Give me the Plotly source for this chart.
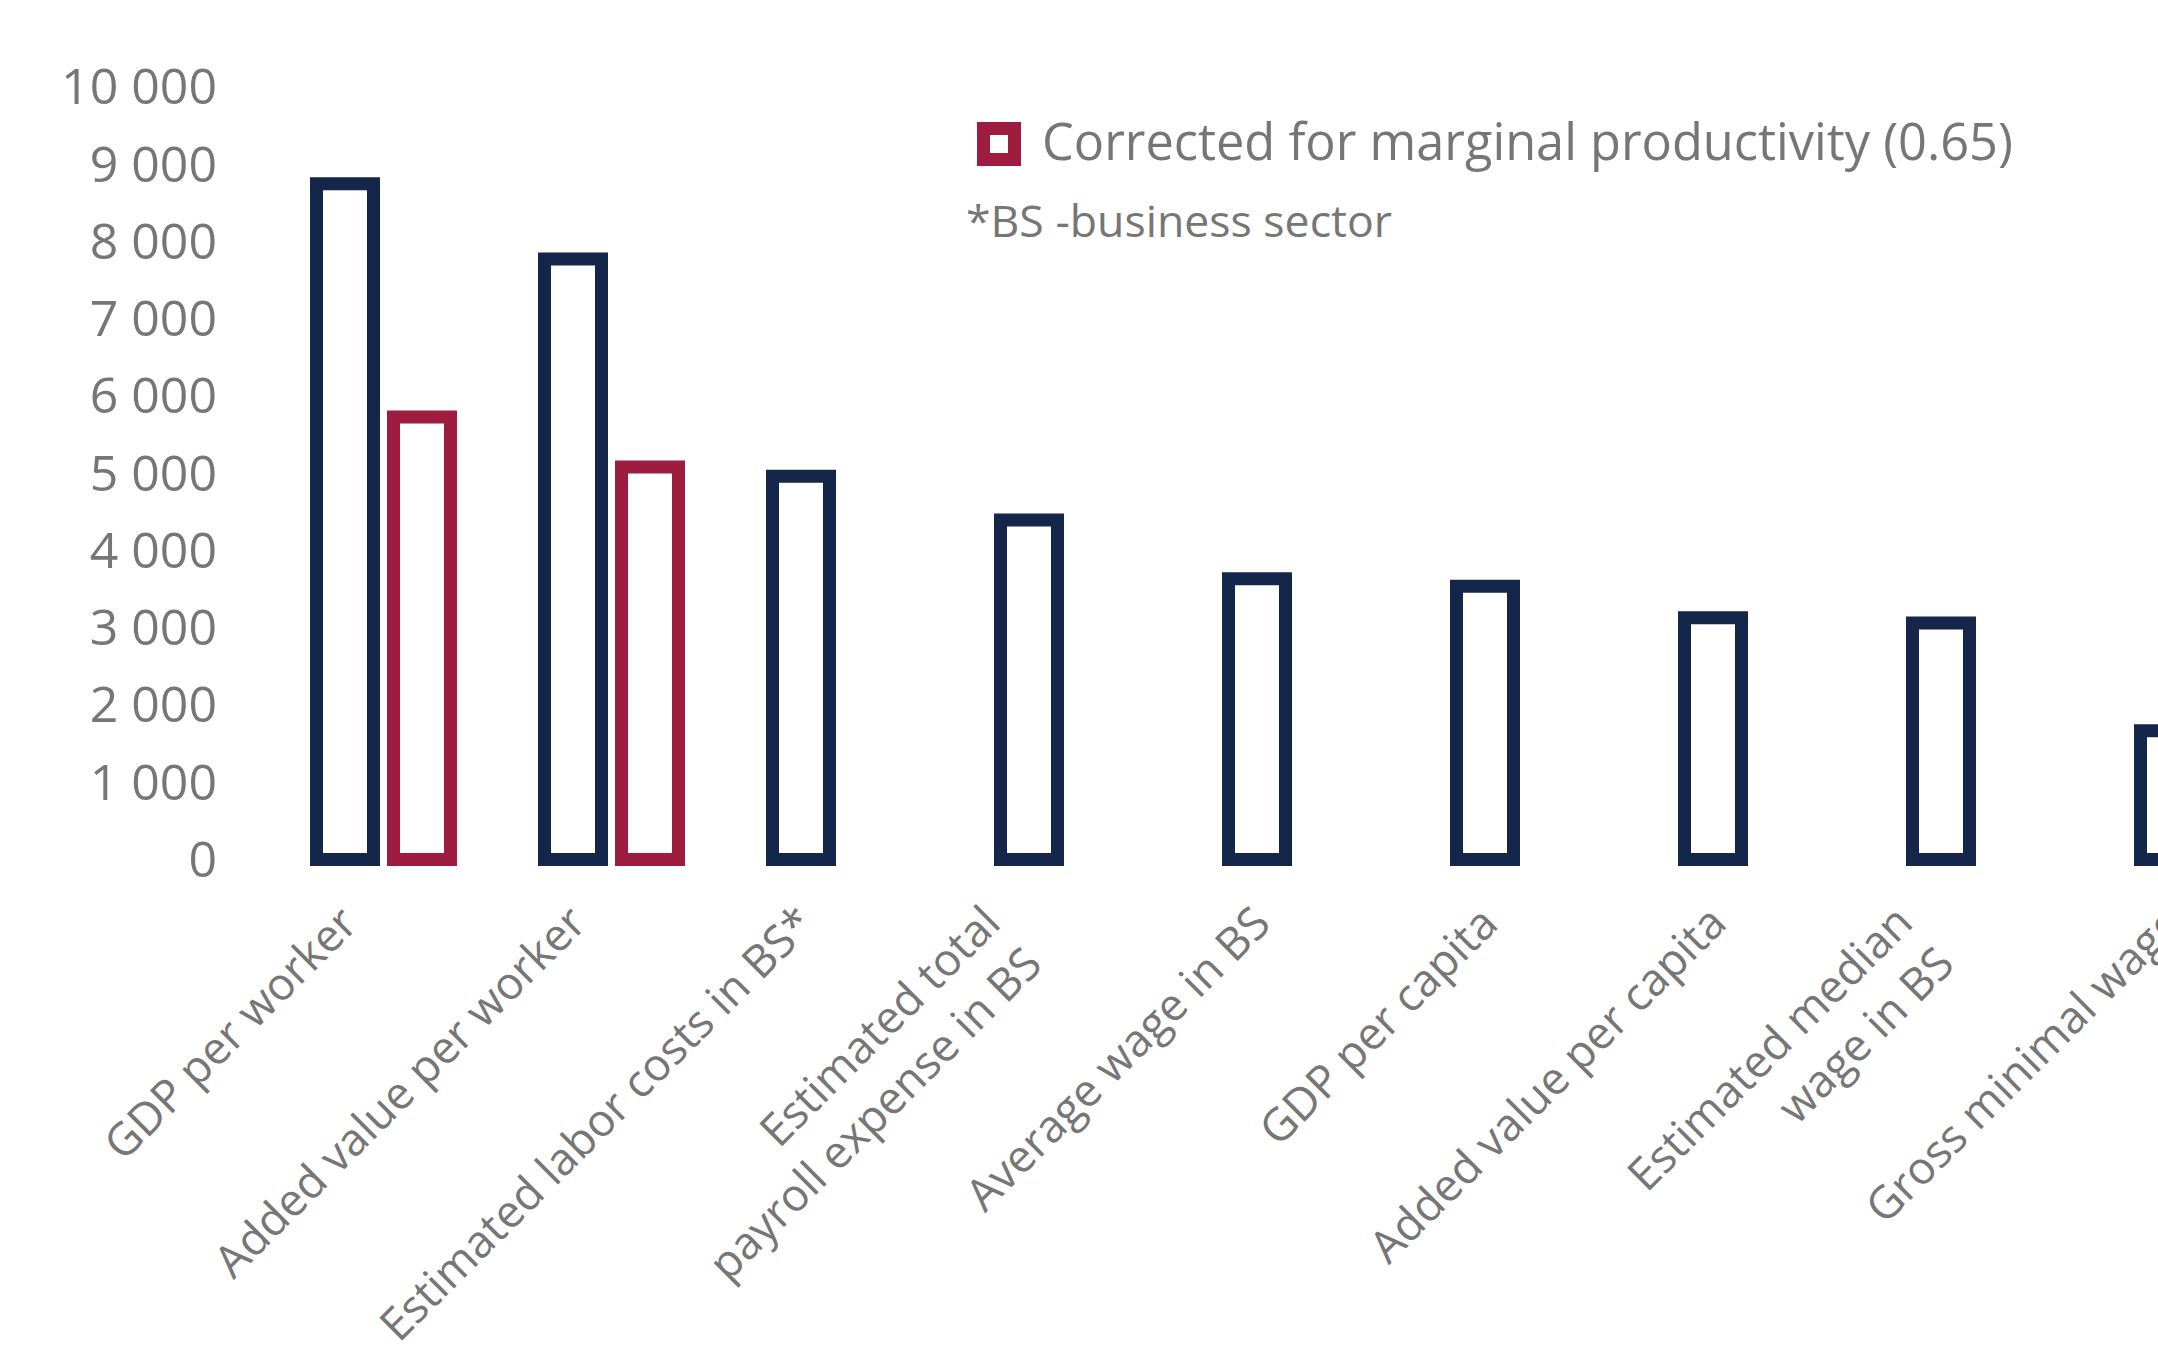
import plotly.graph_objects as go

# Monthly amounts by indicator
categories = [
    "GDP per worker",
    "Added value per worker",
    "Estimated labor costs in BS*",
    "Estimated total<br>payroll expense in BS",
    "Average wage in BS",
    "GDP per capita",
    "Added value per capita",
    "Estimated median<br>wage in BS",
    "Gross minimal wage",
]
base_values = [8745, 7770, 4960, 4395, 3635, 3535, 3130, 3060, 1665]
corrected_values = [5725, 5080, None, None, None, None, None, None, None]
corrected_name = "Corrected for marginal productivity (0.65)"
footnote = "*BS -business sector"

y_tickvals = [0, 1000, 2000, 3000, 4000, 5000, 6000, 7000, 8000, 9000, 10000]
y_ticktext = ["0", "1 000", "2 000", "3 000", "4 000", "5 000",
              "6 000", "7 000", "8 000", "9 000", "10 000"]

NAVY = "#14274A"
CRIMSON = "#9D1C40"
GREY = "#767676"
FONT = "Open Sans"

# page geometry (px)
FIG_W, FIG_H = 2340, 1349
M_L, M_R, M_T, M_B = 222, 0, 79, 474
PLOT_W = FIG_W - M_L - M_R
PLOT_H = FIG_H - M_T - M_B
CAT_STEP = 228          # px between category centres
FIRST_CAT = 383.5       # px position of the first category centre


def px_x(p):
    return (p - M_L) / PLOT_W


def px_y(p):
    return (FIG_H - M_B - p) / PLOT_H


fig = go.Figure()
fig.add_trace(go.Bar(
    x=categories, y=base_values, name="Value",
    marker=dict(color="white", line=dict(color=NAVY, width=13)),
    showlegend=False,
))
fig.add_trace(go.Bar(
    x=categories, y=corrected_values, name=corrected_name,
    marker=dict(color="white", line=dict(color=CRIMSON, width=13)),
    showlegend=False,
))

# category labels, slanted, right-aligned under each group
for cat in categories:
    fig.add_annotation(
        x=cat, xref="x", y=0, yref="paper",
        xanchor="right", yanchor="top", xshift=-11, yshift=-14,
        textangle=-45, align="right", showarrow=False,
        text=cat, font=dict(family=FONT, size=45, color=GREY),
    )

# legend key and footnote
fig.add_shape(type="rect", xref="paper", yref="paper",
              x0=px_x(983.5), x1=px_x(1014.5), y0=px_y(159.5), y1=px_y(128.5),
              line=dict(color=CRIMSON, width=13), fillcolor="white")
fig.add_annotation(xref="paper", yref="paper", x=px_x(1040), y=px_y(141),
                   xanchor="left", yanchor="middle", showarrow=False,
                   text=corrected_name, font=dict(family=FONT, size=50.5, color=GREY))
fig.add_annotation(xref="paper", yref="paper", x=px_x(964), y=px_y(219),
                   xanchor="left", yanchor="middle", showarrow=False,
                   text=footnote, font=dict(family=FONT, size=44.6, color=GREY))

fig.update_layout(
    width=FIG_W, height=FIG_H,
    margin=dict(l=M_L, r=M_R, t=M_T, b=M_B, pad=0),
    paper_bgcolor="white", plot_bgcolor="white",
    barmode="group", bargap=0.3246, bargroupgap=0.26,
    font=dict(family=FONT, color=GREY),
    showlegend=False,
)
fig.update_xaxes(
    type="category",
    range=[-(FIRST_CAT - M_L) / CAT_STEP, (FIG_W - FIRST_CAT) / CAT_STEP],
    showticklabels=False,
    showline=False, showgrid=False, ticks="", zeroline=False,
)
fig.update_yaxes(
    range=[-200, 10100], tickvals=y_tickvals, ticktext=y_ticktext,
    tickfont=dict(size=50, color=GREY), ticklabelstandoff=4,
    showline=False, showgrid=False, ticks="", zeroline=False,
)

fig.write_html(
    "out.html",
    post_script="document.documentElement.style.overflow='hidden';"
                "document.body.style.overflow='hidden';document.body.style.margin='0';",
)
